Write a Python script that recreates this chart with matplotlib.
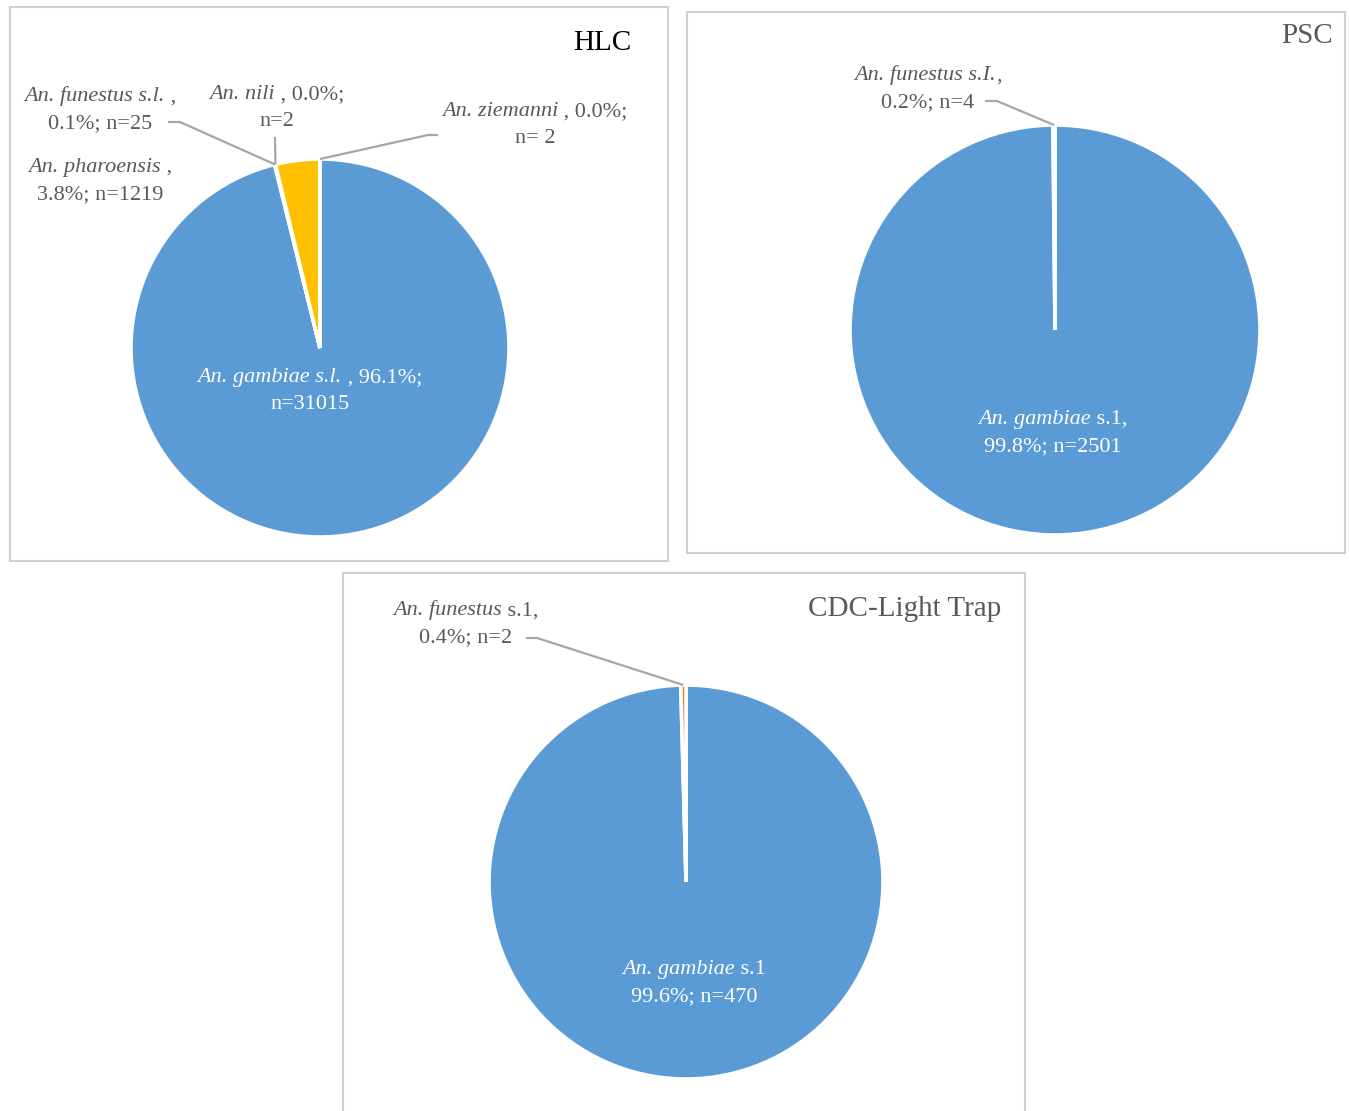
import numpy as np
import matplotlib
matplotlib.use("Agg")
import matplotlib.pyplot as plt
from matplotlib.patches import Rectangle
from matplotlib.offsetbox import TextArea, HPacker, VPacker, AnnotationBbox

plt.rcParams["font.family"] = ["Liberation Serif", "DejaVu Serif"]

# species counts per collection method (slice order = drawing order, clockwise from 12 o'clock)
hlc_species = ["gambiae", "funestus", "nili", "pharoensis", "ziemanni"]
hlc_counts = [31015, 25, 2, 1219, 2]
psc_species = ["gambiae", "funestus"]
psc_counts = [2501, 4]
cdc_species = ["gambiae", "funestus"]
cdc_counts = [470, 2]

office = ["#5B9BD5", "#ED7D31", "#A5A5A5", "#FFC000", "#4472C4"]
LABEL_C = "#595959"
FS = 16
W, H = 1349, 1111

fig = plt.figure(figsize=(W / 100, H / 100), dpi=100)
ax = fig.add_axes([0, 0, 1, 1])


def Y(py):
    # pixel rows run downward, data y runs upward
    return H - py


def pct(n, counts):
    return 100.0 * n / sum(counts)


def draw_pie(counts, cx, cy, r):
    wedges, _ = ax.pie(counts, colors=office[:len(counts)], startangle=90,
                       counterclock=False, center=(cx, Y(cy)), radius=r,
                       wedgeprops=dict(edgecolor="white", linewidth=2.6))
    return wedges


def edge_point(w, cx, cy, r):
    t = np.deg2rad(0.5 * (w.theta1 + w.theta2))
    return cx + r * np.cos(t), Y(cy) + r * np.sin(t)


def leader(x0, py0, xk, tip, horizontal=True):
    # short stub from the label, then straight to the slice
    if horizontal:
        xs, ys = [x0, xk, tip[0]], [Y(py0), Y(py0), tip[1]]
    else:
        xs, ys = [x0, x0, tip[0]], [Y(py0), Y(py0), tip[1]]
    ax.plot(xs, ys, color="#A6A6A6", lw=1.6, solid_capstyle="butt", zorder=3)


def label(x, py, lines, color=LABEL_C, size=FS):
    """lines: list of lines, each a list of (text, italic) pieces."""
    rows = []
    for pieces in lines:
        parts = [TextArea(s, textprops=dict(color=color, fontsize=size,
                                            style="italic" if it else "normal"))
                 for s, it in pieces]
        rows.append(HPacker(children=parts, pad=0, sep=0, align="baseline"))
    block = VPacker(children=rows, pad=0, sep=6, align="center")
    ab = AnnotationBbox(block, (x, Y(py)), xycoords="data", frameon=False,
                        box_alignment=(0.5, 0.5), pad=0, zorder=4)
    ax.add_artist(ab)


def box(x0, y0, x1, y1):
    ax.add_patch(Rectangle((x0, Y(y1)), x1 - x0, y1 - y0, fill=False,
                           edgecolor="#D0D0D0", lw=1.5, zorder=0))


# ---- HLC ----
box(10, 7, 668, 561)
cx, cy, r = 320, 348, 189
wh = draw_pie(hlc_counts, cx, cy, r)
ax.text(631, Y(43), "HLC", ha="right", va="center", fontsize=21, color="#000000")
label(310, 391, [[("An. gambiae s.l.", True),
                  (f" , {pct(hlc_counts[0], hlc_counts):.1f}%;", False)],
                 [(f"n={hlc_counts[0]}", False)]], color="white")
label(100, 110, [[("An. funestus s.l.", True), (" ,", False)],
                 [(f"{pct(hlc_counts[1], hlc_counts):.1f}%; n={hlc_counts[1]}", False)]])
leader(168, 122, 180, edge_point(wh[1], cx, cy, r))
label(277, 108, [[("An. nili", True),
                  (f" , {pct(hlc_counts[2], hlc_counts):.1f}%;", False)],
                 [(f"n={hlc_counts[2]}", False)]])
leader(275, 137, 275, edge_point(wh[2], cx, cy, r), horizontal=False)
label(100, 181, [[("An. pharoensis", True), (" ,", False)],
                 [(f"{pct(hlc_counts[3], hlc_counts):.1f}%; n={hlc_counts[3]}", False)]])
label(535, 125, [[("An. ziemanni", True),
                  (f" , {pct(hlc_counts[4], hlc_counts):.1f}%;", False)],
                 [(f"n= {hlc_counts[4]}", False)]])
leader(438, 135, 428, edge_point(wh[4], cx, cy, r))

# ---- PSC ----
box(687, 12, 1345, 553)
cx, cy, r = 1055, 330, 205
wp = draw_pie(psc_counts, cx, cy, r)
ax.text(1333, Y(36), "PSC", ha="right", va="center", fontsize=21, color=LABEL_C)
label(1053, 433, [[("An. gambiae", True), (" s.1,", False)],
                  [(f"{pct(psc_counts[0], psc_counts):.1f}%; n={psc_counts[0]}", False)]],
      color="white")
label(928, 89, [[("An. funestus s.I.", True), (",", False)],
                [(f"{pct(psc_counts[1], psc_counts):.1f}%; n={psc_counts[1]}", False)]])
leader(985, 101, 997, edge_point(wp[1], cx, cy, r))

# ---- CDC-Light Trap ----
box(343, 573, 1025, 1140)
cx, cy, r = 686, 882, 197
wc = draw_pie(cdc_counts, cx, cy, r)
ax.text(1001, Y(609), "CDC-Light Trap", ha="right", va="center", fontsize=21,
        color=LABEL_C)
label(694, 983, [[("An. gambiae", True), (" s.1", False)],
                 [(f"{pct(cdc_counts[0], cdc_counts):.1f}%; n={cdc_counts[0]}", False)]],
      color="white")
label(466, 624, [[("An. funestus", True), (" s.1,", False)],
                 [(f"{pct(cdc_counts[1], cdc_counts):.1f}%; n={cdc_counts[1]}", False)]])
leader(526, 638, 537, edge_point(wc[1], cx, cy, r))

ax.set_xlim(0, W)
ax.set_ylim(0, H)
ax.set_aspect("auto")
ax.axis("off")
fig.savefig("out.png", dpi=100, facecolor="white")
